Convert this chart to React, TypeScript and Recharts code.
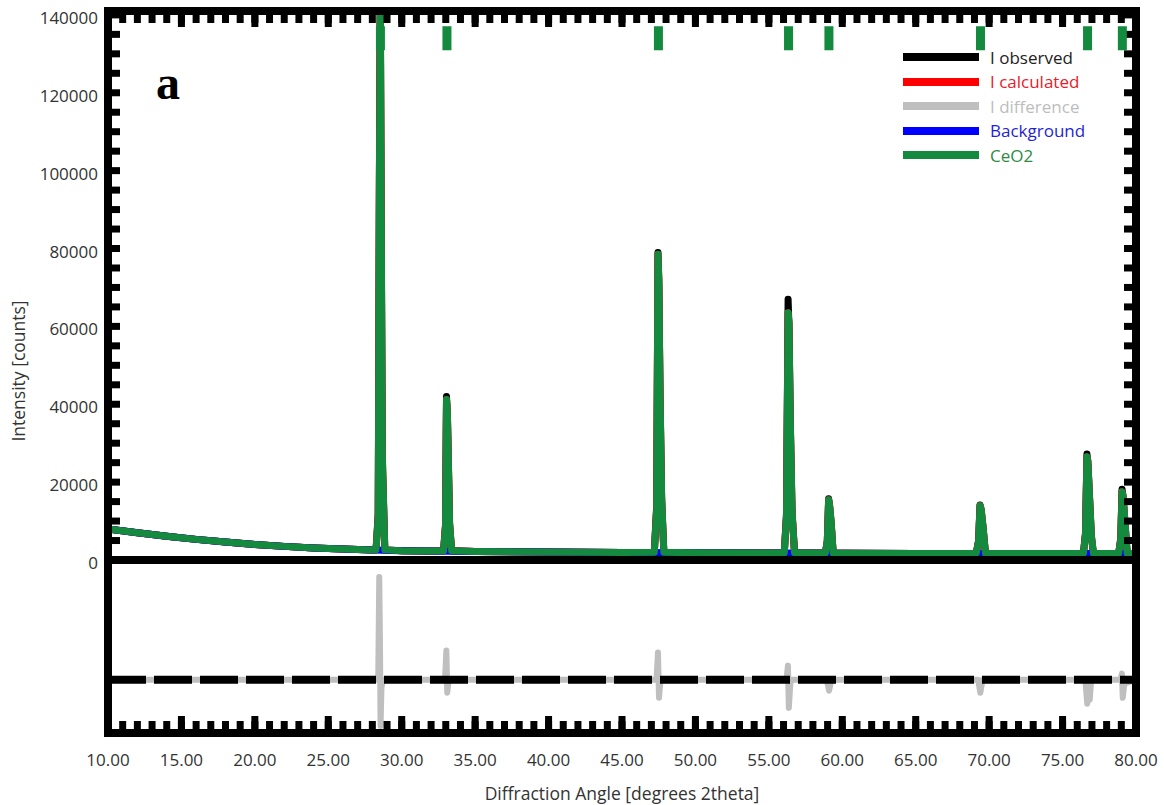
import React from 'react'
import {
  ComposedChart,
  Line,
  Scatter,
  XAxis,
  YAxis,
  ReferenceLine,
} from 'recharts'

// observed / calculated profile (2theta in degrees, intensity in counts)
const profileAngles = [
  10, 12, 14, 16, 18, 20, 22, 24, 26, 28,
  28.25, 28.4, 28.48, 28.54, 28.6, 28.68, 28.85,
  30, 32, 32.85, 32.98, 33.05, 33.11, 33.18, 33.26, 33.4,
  35, 40, 45,
  47.2, 47.36, 47.45, 47.51, 47.59, 47.7, 47.85,
  50, 55,
  56.05, 56.2, 56.31, 56.37, 56.46, 56.58, 56.75,
  58.85, 58.98, 59.07, 59.14, 59.24, 59.38,
  60, 65,
  69.12, 69.28, 69.38, 69.46, 69.58, 69.75,
  72, 75,
  76.42, 76.56, 76.66, 76.72, 76.84, 76.96, 77.1,
  78.82, 78.96, 79.05, 79.12, 79.24, 79.4, 80,
]
const observed = [
  8000, 7000, 6100, 5300, 4600, 4000, 3500, 3100, 2800, 2550,
  2600, 12000, 100000, 148000, 90000, 25000, 2600,
  2400, 2300, 2350, 9000, 42000, 37000, 24000, 9000, 2350,
  2200, 2050, 1950,
  2000, 14000, 79000, 70000, 42000, 15000, 2000,
  1850, 1800,
  1850, 12000, 67000, 60000, 35000, 12000, 1850,
  1800, 5000, 15700, 13500, 9500, 1800,
  1750, 1700,
  1700, 5000, 14100, 12500, 8500, 1700,
  1700, 1700,
  1700, 7000, 27200, 25000, 15700, 6000, 1700,
  1700, 5500, 18200, 16000, 10000, 1700, 1700,
]
const calculated = [
  8000, 7000, 6100, 5300, 4600, 4000, 3500, 3100, 2800, 2550,
  2600, 11000, 96000, 146000, 92000, 27000, 2600,
  2400, 2300, 2350, 8500, 41200, 38000, 25000, 9500, 2350,
  2200, 2050, 1950,
  2000, 13000, 78500, 72000, 43000, 16000, 2000,
  1850, 1800,
  1850, 11000, 63500, 61000, 36000, 12500, 1850,
  1800, 4800, 15500, 14000, 9800, 1800,
  1750, 1700,
  1700, 4800, 14000, 13000, 8700, 1700,
  1700, 1700,
  1700, 6500, 26500, 25500, 16000, 6300, 1700,
  1700, 5200, 17500, 16500, 10300, 1700, 1700,
]

// refined background
const bgAngles = [10, 12, 14, 16, 18, 20, 22, 24, 26, 28, 30, 35, 40, 45, 50, 55, 60, 65, 70, 75, 80]
const background = [8000, 7000, 6100, 5300, 4600, 4000, 3500, 3100, 2800, 2550, 2400, 2200, 2050, 1950, 1850, 1800, 1750, 1700, 1700, 1700, 1700]

// difference (observed - calculated)
const diffAngles = [
  10, 28.4, 28.47, 28.52, 28.56, 28.62, 28.7,
  32.95, 33.04, 33.1, 33.2,
  47.35, 47.45, 47.52, 47.62,
  56.2, 56.3, 56.36, 56.46, 56.55,
  58.95, 59.1, 59.25,
  69.25, 69.4, 69.55,
  76.55, 76.68, 76.75, 76.85, 76.95,
  78.95, 79.04, 79.1, 79.2, 80,
]
const difference = [
  0, 0, 51000, 18000, -23000, -4000, 0,
  0, 14500, -6500, 0,
  0, 13500, -9000, 0,
  0, 7000, -14000, -2000, 0,
  0, -5500, 0,
  0, -6500, 0,
  0, -12000, -4000, -10000, 0,
  0, 3000, -9000, -2000, 0,
]

// CeO2 reflection positions
const reflections = [28.55, 33.08, 47.48, 56.34, 59.09, 69.41, 76.7, 79.07]

const xTicks = [10, 15, 20, 25, 30, 35, 40, 45, 50, 55, 60, 65, 70, 75, 80]
const xMinorTicks = Array.from({ length: 71 }, (_, i) => 10 + i)
const yTicks = [0, 20000, 40000, 60000, 80000, 100000, 120000, 140000]
const yMinorTicks = Array.from({ length: 29 }, (_, i) => i * 5000)

const legendItems = [
  { name: 'I observed', color: '#000000', text: '#222222' },
  { name: 'I calculated', color: '#ff0000', text: '#e8202a' },
  { name: 'I difference', color: '#bfbfbf', text: '#bdbdbd' },
  { name: 'Background', color: '#0000ff', text: '#1f1fd8' },
  { name: 'CeO2', color: '#138a3e', text: '#2e8b45' },
]

const GREEN = '#138a3e'
const FONT = "'Open Sans', 'Noto Sans', sans-serif"
const MARKER_LEVEL = 134000
const teeth = { stroke: '#000', strokeWidth: 7 }
const noLabel = () => <g />

const profileData = profileAngles.map((a, i) => ({ angle: a, observed: observed[i], calculated: calculated[i] }))
const bgData = bgAngles.map((a, i) => ({ angle: a, background: background[i] }))
const diffData = diffAngles.map((a, i) => ({ angle: a, difference: difference[i] }))
const markerData = reflections.map((a) => ({ angle: a, level: MARKER_LEVEL }))

export default function App() {
  return (
    <div style={{ position: 'absolute', left: 0, top: 0, width: 1164, height: 805, background: '#fff', fontFamily: FONT }}>
      {/* main panel */}
      <div style={{ position: 'absolute', left: 0, top: 0 }}>
        <ComposedChart width={1164} height={805} margin={{ top: 11, right: 28, bottom: 245, left: 0 }}>
          <XAxis xAxisId="tx" dataKey="angle" type="number" orientation="top" mirror height={1} domain={[10, 80]} allowDataOverflow
            ticks={xMinorTicks} interval={0} tickSize={12} tickLine={teeth} axisLine={false} tick={noLabel} />
          <XAxis xAxisId="txMajor" dataKey="angle" type="number" orientation="top" mirror height={1} domain={[10, 80]} allowDataOverflow
            ticks={xTicks} interval={0} tickSize={15} tickLine={teeth} axisLine={false} tick={noLabel} />
          <YAxis yAxisId="int" type="number" domain={[0, 141000]} allowDataOverflow ticks={yTicks} interval={0}
            width={108} tickLine={false} axisLine={false} tickSize={0} tickMargin={10}
            tick={{ fill: '#333', fontSize: 17, fontFamily: FONT, dy: 3 }} />
          <YAxis yAxisId="tl" type="number" orientation="left" mirror domain={[0, 141000]} allowDataOverflow
            ticks={yMinorTicks} interval={0} tickSize={12} tickLine={teeth} axisLine={false} tick={noLabel} />
          <YAxis yAxisId="tr" type="number" orientation="right" mirror domain={[0, 141000]} allowDataOverflow
            ticks={yMinorTicks} interval={0} tickSize={12} tickLine={teeth} axisLine={false} tick={noLabel} />

          <Line xAxisId="tx" yAxisId="int" data={profileData} dataKey="observed" stroke="#000" strokeWidth={7}
            strokeLinejoin="round" dot={false} isAnimationActive={false} />
          <Line xAxisId="txMajor" yAxisId="int" data={profileData} dataKey="calculated" stroke="#ff0000" strokeWidth={7}
            strokeLinejoin="round" dot={false} isAnimationActive={false} />
          <Line xAxisId="tx" yAxisId="int" data={bgData} dataKey="background" stroke="#0000ff" strokeWidth={7}
            strokeLinejoin="round" dot={false} isAnimationActive={false} />
          <Line xAxisId="tx" yAxisId="int" data={profileData} dataKey="calculated" name="CeO2" stroke={GREEN} strokeWidth={7}
            strokeLinejoin="round" dot={false} isAnimationActive={false} />
          <Scatter xAxisId="tx" yAxisId="int" data={markerData} dataKey="level" isAnimationActive={false}
            shape={(p: any) => <rect x={p.cx - 4.5} y={p.cy - 12} width={9} height={24} fill={GREEN} />} />
        </ComposedChart>
      </div>

      {/* difference panel */}
      <div style={{ position: 'absolute', left: 0, top: 0 }}>
        <ComposedChart width={1164} height={805} margin={{ top: 560, right: 28, bottom: 32, left: 108 }}>
          <XAxis xAxisId="lbl" dataKey="angle" type="number" domain={[10, 80]} allowDataOverflow ticks={xTicks}
            interval={0} height={40} tickLine={false} axisLine={false} tickSize={0} tickMargin={21}
            tickFormatter={(v: number) => v.toFixed(2)} tick={{ fill: '#333', fontSize: 17, fontFamily: FONT }} />
          <YAxis yAxisId="d" type="number" domain={[-26500, 59500]} allowDataOverflow hide />
          <Line xAxisId="lbl" yAxisId="d" data={diffData} dataKey="difference" stroke="#bfbfbf" strokeWidth={6}
            strokeLinejoin="round" dot={false} isAnimationActive={false} />
          <ReferenceLine xAxisId="lbl" yAxisId="d" y={0} stroke="#000" strokeWidth={8} strokeDasharray="38 8" />
        </ComposedChart>
      </div>

      {/* bottom teeth of the difference panel (ticks pointing up from its lower edge) */}
      <div style={{ position: 'absolute', left: 0, top: 0 }}>
        <ComposedChart width={1164} height={805} margin={{ top: 731, right: 28, bottom: 0, left: 108 }}>
          <XAxis xAxisId="bx" dataKey="angle" type="number" orientation="top" height={1} domain={[10, 80]} allowDataOverflow
            ticks={xMinorTicks} interval={0} tickSize={12} tickLine={teeth} axisLine={false} tick={noLabel} />
          <XAxis xAxisId="bxMajor" dataKey="angle" type="number" orientation="top" height={1} domain={[10, 80]} allowDataOverflow
            ticks={xTicks} interval={0} tickSize={16} tickLine={teeth} axisLine={false} tick={noLabel} />
          <YAxis yAxisId="b" type="number" domain={[-26500, 59500]} allowDataOverflow hide />
          <Line xAxisId="bx" yAxisId="b" data={diffData} dataKey="difference" stroke="none" dot={false} isAnimationActive={false} />
          <Line xAxisId="bxMajor" yAxisId="b" data={diffData} dataKey="difference" stroke="none" dot={false} isAnimationActive={false} />
        </ComposedChart>
      </div>

      {/* frames */}
      <div style={{ position: 'absolute', left: 104, top: 7, width: 1036, height: 557, border: '8px solid #000', boxSizing: 'border-box', pointerEvents: 'none' }} />
      <div style={{ position: 'absolute', left: 104, top: 556, width: 1036, height: 181, border: '8px solid #000', boxSizing: 'border-box', pointerEvents: 'none' }} />

      {/* panel letter */}
      <div style={{ position: 'absolute', left: 156, top: 59, fontFamily: "'Liberation Serif', serif", fontWeight: 'bold', fontSize: 48, lineHeight: 1 }}>a</div>

      {/* legend */}
      {legendItems.map((it, i) => (
        <div key={it.name} style={{ position: 'absolute', left: 903, top: 57 + i * 24.5 - 12, height: 24, display: 'flex', alignItems: 'center' }}>
          <div style={{ width: 76, height: 8, background: it.color }} />
          <span style={{ marginLeft: 11, fontSize: 17, color: it.text, whiteSpace: 'nowrap' }}>{it.name}</span>
        </div>
      ))}

      {/* axis titles */}
      <div style={{ position: 'absolute', left: 18, top: 371, transform: 'translate(-50%, -50%) rotate(-90deg)', fontSize: 17.5, color: '#333', whiteSpace: 'nowrap' }}>
        Intensity [counts]
      </div>
      <div style={{ position: 'absolute', left: 622, top: 793, transform: 'translate(-50%, -50%)', fontSize: 17.5, color: '#333', whiteSpace: 'nowrap' }}>
        Diffraction Angle [degrees 2theta]
      </div>
    </div>
  )
}
